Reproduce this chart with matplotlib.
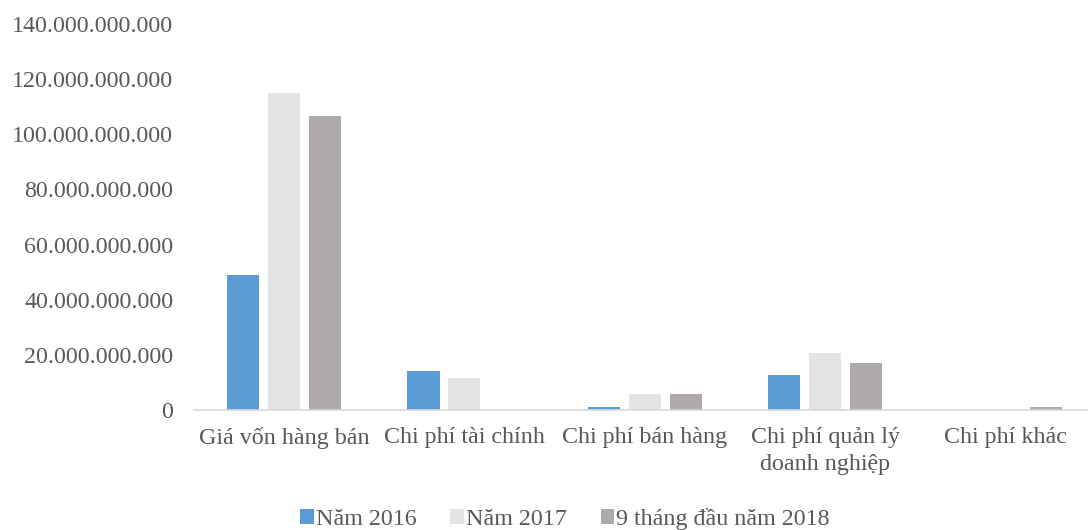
import numpy as np
import matplotlib
matplotlib.use("Agg")
import matplotlib.pyplot as plt
from matplotlib.ticker import FuncFormatter

# Chart data (VND)
categories = ["Giá vốn hàng bán", "Chi phí tài chính", "Chi phí bán hàng",
              "Chi phí quản lý\ndoanh nghiệp", "Chi phí khác"]
series_names = ["Năm 2016", "Năm 2017", "9 tháng đầu năm 2018"]
vals_2016 = [48.8e9, 14.1e9, 1.1e9, 12.7e9, 0]
vals_2017 = [115.0e9, 11.7e9, 5.7e9, 20.5e9, 0]
vals_2018 = [106.7e9, 0, 5.7e9, 16.9e9, 1.1e9]

colors = ["#5B9BD5", "#E4E4E4", "#AEAAAA"]
txt = "#595959"

plt.rcParams['font.family'] = ['Liberation Serif', 'DejaVu Serif']

fig = plt.figure(figsize=(10.88, 5.30), dpi=100)
ax = fig.add_axes([194 / 1088, 120 / 530, 901.5 / 1088, 386 / 530])

x = np.arange(len(categories))
step = 0.227
width = 0.178
for i, (vals, name) in enumerate(zip([vals_2016, vals_2017, vals_2018], series_names)):
    ax.bar(x + (i - 1) * step, vals, width, color=colors[i], label=name)

ax.set_xlim(-0.5, len(categories) - 0.5)
ax.set_ylim(0, 140e9)
ax.set_yticks(np.arange(0, 140e9 + 1, 20e9))
ax.yaxis.set_major_formatter(FuncFormatter(lambda v, p: f"{int(v):,}".replace(",", ".")))
ax.set_xticks(x)
ax.set_xticklabels(categories, linespacing=1.4)
ax.tick_params(axis='both', length=0, labelsize=17.3, colors=txt)
ax.tick_params(axis='y', pad=15)
ax.tick_params(axis='x', pad=12)
for s in ['top', 'right', 'left']:
    ax.spines[s].set_visible(False)
ax.spines['bottom'].set_color("#D9D9D9")
ax.spines['bottom'].set_linewidth(1.2)

leg = fig.legend(loc='center', bbox_to_anchor=(565 / 1088, 11 / 530), ncol=3, frameon=False,
                 fontsize=17.3, handlelength=0.55, handleheight=0.55, handletextpad=0.1,
                 columnspacing=1.4)
for t in leg.get_texts():
    t.set_color(txt)

fig.savefig("out.png", dpi=100)
